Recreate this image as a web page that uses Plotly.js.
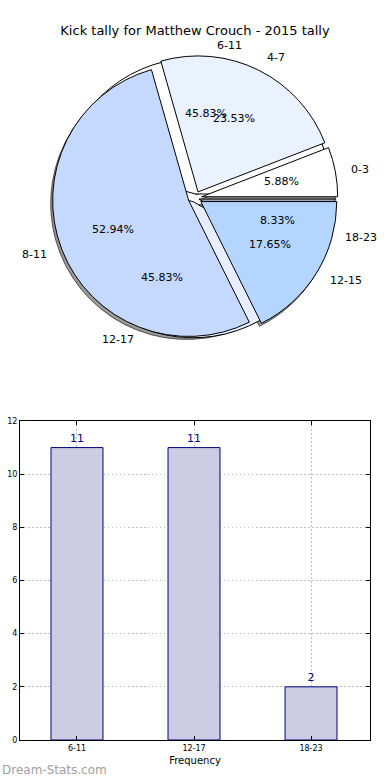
<!DOCTYPE html>
<html>
<head>
<meta charset="utf-8">
<script src="https://cdn.plot.ly/plotly-3.0.1.min.js"></script>
<style>html,body{margin:0;padding:0;background:#fff;}#chart{width:390px;height:780px;}</style>
</head>
<body>
<div id="chart"></div>
<script>
// ---- data ----
const pieALabels = ['6-11', '12-17', '18-23'];
const pieAValues = [11, 11, 2];
const pieBLabels = ['0-3', '4-7', '8-11', '12-15'];
const pieBValues = [1, 4, 9, 3];
const barCategories = ['6-11', '12-17', '18-23'];
const barValues = [11, 11, 2];
const yTickValues = [0, 2, 4, 6, 8, 10, 12];

// ---- styling / layout helpers ----
const W = 390, H = 780;
const CX = 195, CY = 198, R = 136;
const pullA = 0.03, pullB = 0.05;
const colorsA = ['#ffffff', '#e6eeff', '#9aa6b8'];
const colorsB = ['#ffffff', '#eaf1ff', '#c5d9fe', '#b4d5ff'];

function domainFor(cx, cy, r, maxPull) {
  const half = r * (1 + maxPull);
  return {
    x: [(cx - half) / W, (cx + half) / W],
    y: [1 - (cy + half) / H, 1 - (cy - half) / H]
  };
}

// Plotly (counterclockwise) puts the first slice clockwise of `rotation`;
// shift so the first slice starts at 3 o'clock and runs counterclockwise.
function startRotation(values) {
  const total = values.reduce((a, b) => a + b, 0);
  return 90 - 360 * values[0] / total;
}

function pieTrace(labels, values, colors, pull, dom, lineColor) {
  return {
    type: 'pie', labels: labels, values: values, sort: false,
    direction: 'counterclockwise', rotation: startRotation(values),
    pull: values.map(() => pull), textinfo: 'none', hoverinfo: 'none',
    marker: {colors: colors, line: {color: lineColor || '#000', width: 1}},
    domain: dom, showlegend: false
  };
}

function pieAnnotations(labels, values, pull) {
  const total = values.reduce((a, b) => a + b, 0);
  let cum = 0;
  const out = [];
  values.forEach((v, i) => {
    const frac = v / total;
    const mid = (cum + frac / 2) * 2 * Math.PI;
    cum += frac;
    const c = Math.cos(mid), s = Math.sin(mid);
    const ox = CX + pull * R * c, oy = CY - pull * R * s;
    const lx = ox + 1.1 * R * c, ly = oy - 1.1 * R * s;
    const px = ox + 0.6 * R * c, py = oy - 0.6 * R * s;
    out.push({xref: 'paper', yref: 'paper', x: lx / W, y: 1 - ly / H,
      text: labels[i], showarrow: false, xanchor: c > 0 ? 'left' : 'right', yanchor: 'middle',
      font: {family: 'DejaVu Sans', size: 11, color: '#000'}});
    out.push({xref: 'paper', yref: 'paper', x: px / W, y: 1 - py / H,
      text: (frac * 100).toFixed(2) + '%', showarrow: false, xanchor: 'center', yanchor: 'middle',
      font: {family: 'DejaVu Sans', size: 11, color: '#000'}});
  });
  return out;
}

const shadowColors = pieBValues.map(() => 'rgba(0,0,0,0.4)');

const traces = [
  pieTrace(pieBLabels, pieBValues, shadowColors, pullB, domainFor(CX - 2, CY + 3, R, pullB), 'rgba(0,0,0,0.6)'),
  pieTrace(pieALabels, pieAValues, colorsA, pullA, domainFor(CX, CY, R, pullA)),
  pieTrace(pieBLabels, pieBValues, colorsB, pullB, domainFor(CX, CY, R, pullB)),
  {
    type: 'bar', x: barCategories, y: barValues, width: 0.444,
    marker: {color: '#ccccE5', line: {color: '#00007f', width: 1}},
    text: barValues.map(String), textposition: 'outside', cliponaxis: false,
    textfont: {family: 'DejaVu Sans', size: 11, color: '#00007f'},
    hoverinfo: 'none', xaxis: 'x', yaxis: 'y', showlegend: false
  }
];

const annotations = pieAnnotations(pieALabels, pieAValues, pullA)
  .concat(pieAnnotations(pieBLabels, pieBValues, pullB))
  .concat([{
    xref: 'paper', yref: 'paper', x: 0, y: 1 - 770 / H, xanchor: 'left', yanchor: 'middle',
    text: 'Dream-Stats.com', showarrow: false,
    font: {family: 'DejaVu Sans', size: 12, color: '#a0a0a0'}
  }]);

const gridDash = '1.5px,2.5px';

const layout = {
  width: W, height: H,
  margin: {l: 0, r: 0, t: 0, b: 0},
  paper_bgcolor: '#fff', plot_bgcolor: '#fff',
  title: {text: 'Kick tally for Matthew Crouch - 2015 tally', x: 0.5, xanchor: 'center',
    y: 1 - 30 / H, yanchor: 'middle', font: {family: 'DejaVu Sans', size: 13, color: '#000'}},
  xaxis: {
    domain: [20 / W, 370 / W], range: [-0.487, 2.504], type: 'category',
    showline: true, linecolor: '#000', linewidth: 1, mirror: 'allticks',
    ticks: 'inside', ticklen: 4, tickcolor: '#000',
    showgrid: true, gridcolor: '#bdbdbd', griddash: gridDash, gridwidth: 1,
    tickfont: {family: 'DejaVu Sans', size: 8, color: '#000'},
    title: {text: 'Frequency', font: {family: 'DejaVu Sans', size: 10, color: '#000'}, standoff: 5},
    zeroline: false, fixedrange: true
  },
  yaxis: {
    domain: [1 - 740 / H, 1 - 421 / H], range: [0, 12],
    tickvals: yTickValues, ticktext: yTickValues.map(String),
    showline: true, linecolor: '#000', linewidth: 1, mirror: 'allticks',
    ticks: 'inside', ticklen: 4, tickcolor: '#000',
    showgrid: true, gridcolor: '#bdbdbd', griddash: gridDash, gridwidth: 1,
    tickfont: {family: 'DejaVu Sans', size: 8, color: '#000'},
    zeroline: false, fixedrange: true
  },
  annotations: annotations
};

Plotly.newPlot('chart', traces, layout, {displayModeBar: false, staticPlot: true});
</script>
</body>
</html>
